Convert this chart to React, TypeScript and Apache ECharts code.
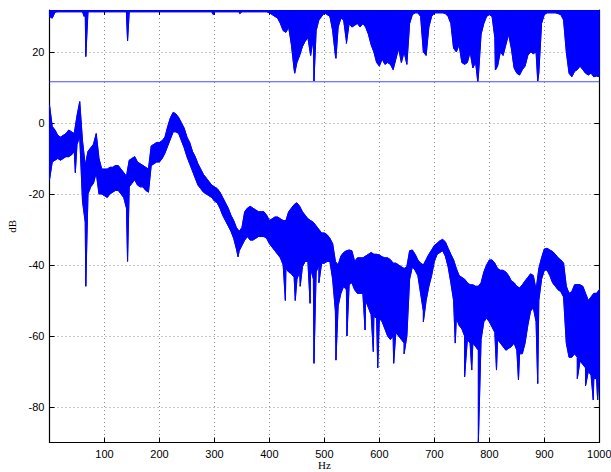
import { useEffect, useRef } from 'react';
import * as echarts from 'echarts';

// Frequency sampling of the readings (Hz)
const STEP_HZ = 5;

// Main spectrum: upper / lower envelope read every 5 Hz (0..1000 Hz), in dB
const specHi = [
  5, -1, -2, -3.5, -4, -3.5, -3, -2, -2.5, -3, 2, 6, -5, -12, -8, -7, -6, -3, -10, -13,
  -13, -13, -12.5, -12.5, -12, -12, -13, -14, -15, -10.5, -10, -9.5, -11, -11.5, -12, -12.5, -13, -6.5, -6, -5.5,
  -5.5, -5, -4, -1, 1.5, 3, 2.5, 1.5, 0, -1.5, -4, -5.5, -8, -9.5, -11.5, -13, -14.5, -15.5, -16.5, -17.5,
  -18, -18.5, -19.5, -21, -22.5, -24, -26, -27.5, -29.5, -30.5, -29.5, -25, -24, -23.5, -24, -24.5, -25, -25, -25, -26,
  -27.5, -27, -26.5, -26.5, -27, -27.5, -27.5, -25, -24, -23, -22.5, -23.5, -25, -26, -27, -27.5, -28, -29, -30, -31,
  -31, -31.5, -32.5, -34, -39, -40, -37.5, -36.5, -36, -35.8, -36, -39, -38, -38, -38, -37.5, -37, -36.5, -37, -37,
  -37.2, -37.7, -38, -38, -38.5, -39.5, -39.5, -40, -40.5, -41, -40.5, -36, -35.8, -37, -38.6, -39.5, -40, -38.5, -37, -35.8,
  -34.5, -33.9, -33.2, -32.8, -33.5, -35.3, -37, -38.6, -41, -43, -43.5, -44, -45, -45.6, -45.6, -46, -46, -45, -42, -40,
  -38.6, -38.6, -39.5, -41, -41.5, -41.5, -42, -43, -44.5, -45, -46, -46.5, -45.6, -44.5, -43.5, -42.5, -43, -47, -41, -38,
  -35.5, -35.3, -35.8, -36.2, -37, -38, -38.6, -39.5, -46, -48, -47.5, -45.6, -45.5, -45.6, -46, -48, -50, -49, -48, -48,
  -47,
];
const specLo = [
  -16, -11, -10.5, -10, -10.5, -10, -9.5, -9.5, -9, -8, -6, -4, -22, -28, -20, -18, -17, -14, -20, -20,
  -20.5, -21, -20, -19.5, -19, -19, -20, -21, -24, -18, -17, -16, -17.5, -18, -18, -19, -19.5, -12, -11.5, -11,
  -11, -10, -8.5, -6.5, -4.5, -2.5, -2.5, -3, -5, -7, -9.5, -11.5, -13.5, -15.5, -17.5, -18.5, -19.5, -20, -20.5, -21,
  -22, -22.5, -24, -26, -27.5, -29, -30.5, -32.5, -35.5, -36, -34.5, -33, -32, -33, -33, -32.5, -32, -32, -32, -32.5,
  -34, -35, -36, -37, -38, -40, -41, -42, -42.5, -43.5, -44, -42, -40.5, -39, -39, -41, -44, -42, -40, -39.5,
  -39.5, -39, -39, -44, -53, -51.5, -48, -46, -47, -45.5, -45, -47, -48, -48, -48, -50, -52, -54, -54.5, -55,
  -55, -56, -58, -60, -61, -60, -59, -60, -61, -62, -60, -44, -40.5, -41.5, -43, -48, -53, -50, -46, -43,
  -39, -37, -36.5, -36, -37.5, -40.5, -45, -50, -55, -57, -58, -60, -61, -62, -62, -63, -64, -61, -56, -55,
  -56, -57.5, -59, -61, -62, -63, -64, -63.5, -63, -62, -64, -65, -65, -62, -57, -53, -52, -56, -50, -44,
  -41.5, -41.4, -43, -45, -46, -47, -47.5, -49, -62, -66, -66, -65, -66, -67, -68, -69, -70, -71, -72, -72,
  -70,
];
// Narrow downward spikes of the spectrum: [Hz, dB]
const specSpikes: [number, number][] = [
  [47, -14], [66, -46], [142, -39], [343, -37.7], [429, -50], [447, -50], [456, -46], [474, -50.8],
  [481, -67.7], [490, -45], [521, -66.8], [541, -60], [574, -58.3], [589, -64.4], [597, -69], [626, -67.7],
  [645, -65], [680, -56], [738, -62], [755, -71.5], [768, -69.6], [780, -90], [813, -69.6], [853, -72.4],
  [888, -73.4], [960, -72], [975, -74], [989, -78], [997, -78],
];

// Upper trace: ceiling and lower envelope every 5 Hz (0..1000 Hz), in dB
const TOP_CEIL_DB = 31.6;
const topLo = [
  30, 29.5, 31.2, 31.3, 31.3, 31.3, 31.3, 31.3, 31.3, 31.3, 31.3, 31.3, 31.3, 31.3, 31.3, 31.3, 31.3, 31.3, 31.3, 31.3,
  31.3, 31.3, 31.3, 31.3, 31.3, 31.3, 31.3, 31.3, 31.3, 31.3, 31.3, 31.3, 31.3, 31.3, 31.3, 31.3, 31.3, 31.3, 31.3, 31.3,
  31.3, 31.3, 31.3, 31.3, 31.3, 31.3, 31.3, 31.3, 31.3, 31.3, 31.3, 31.3, 31.3, 31.3, 31.3, 31.3, 31.3, 31.3, 31.3, 31.3,
  31.3, 31.3, 31.3, 31.3, 31.3, 31.3, 31.3, 31.3, 31.3, 31.3, 31.3, 31.3, 31.3, 31.3, 31.3, 31.3, 31.3, 31.3, 31.3, 31.3,
  31, 30.5, 30, 29.5, 28, 26, 25.5, 27, 22, 15, 17, 19, 21.5, 23, 24, 19, 24, 26, 29, 30,
  31, 30.5, 30, 26, 19, 27, 29.5, 29, 23, 28, 27, 27.5, 28, 27, 28, 27, 25, 22, 20, 17,
  16, 18, 16.5, 17, 16.5, 15, 18, 21, 17, 20, 16.5, 28, 30.5, 31, 31, 30, 20, 19, 27, 30,
  31, 31, 31, 31, 30.8, 30, 28, 21, 20, 22, 17, 16.5, 17, 20, 15.5, 17, 13, 25, 28, 30,
  30.5, 30, 24, 16, 20, 19, 22, 25, 21, 15.5, 14, 13.5, 15, 16, 19, 20, 19.5, 20, 14, 28,
  30.5, 31, 31, 31, 31, 30.8, 30.5, 29, 20, 14, 13, 14.5, 15, 16, 15, 14, 13.5, 14, 13, 13.2,
  13,
];
// Narrow downward spikes of the upper trace: [Hz, dB]
const topSpikes: [number, number][] = [
  [63, 30], [66, 18.7], [140, 30.5], [142, 23.1], [298, 30.5], [346, 30.8], [446, 14], [481, 11.8],
  [521, 18.2], [540, 22.4], [779, 11.6], [811, 14.9], [888, 11.8],
];

// Horizontal reference level (dB)
const LEVEL_DB = 11.6;
const FREQ_RANGE = [0, 1000];
const DB_RANGE = [-90, 31.8];

const BLUE = '#0000ff';

function withFreq(vals: number[]): [number, number][] {
  return vals.map((v, i) => [i * STEP_HZ, v]);
}
function withSpikes(vals: number[], spikes: [number, number][]) {
  const pts = withFreq(vals).concat(spikes.map((s) => [s[0], s[1]] as [number, number]));
  pts.sort((a, b) => a[0] - b[0]);
  return pts;
}

function bandSeries(hi: number[], lo: number[], spikes: [number, number][]) {
  const hiPts = withFreq(hi);
  const loPts = withSpikes(lo, spikes);
  const common = { symbol: 'none', showSymbol: false, silent: true, xAxisIndex: 0, yAxisIndex: 0 };
  return [
    {
      ...common,
      type: 'custom',
      coordinateSystem: 'cartesian2d',
      clip: true,
      data: [[FREQ_RANGE[0], 0]],
      renderItem: (_params: any, api: any) => {
        const points: number[][] = [];
        for (const p of hiPts) points.push(api.coord(p));
        for (let i = loPts.length - 1; i >= 0; i--) points.push(api.coord(loPts[i]));
        return {
          type: 'polygon',
          shape: { points },
          style: { fill: BLUE, stroke: BLUE, lineWidth: 0.8 },
        };
      },
    },
    { ...common, type: 'line', data: hiPts, lineStyle: { color: BLUE, width: 1 } },
    { ...common, type: 'line', data: loPts, lineStyle: { color: BLUE, width: 1 } },
  ];
}

export default function App() {
  const ref = useRef<HTMLDivElement>(null);
  useEffect(() => {
    if (!ref.current) return;
    const chart = echarts.init(ref.current, undefined, { renderer: 'svg' });
    const gridLine = { show: true, lineStyle: { color: '#8a8a8a', type: [1, 3] as any, width: 1 } };
    const tickIn = { show: true, inside: true, length: 5, lineStyle: { color: '#000' } };
    const label = { fontFamily: 'Liberation Sans', fontSize: 11, color: '#000' };
    const axisLine = { show: true, onZero: false, lineStyle: { color: '#000', width: 1.2 } };
    chart.setOption({
      animation: false,
      backgroundColor: '#fff',
      grid: { left: 49.5, right: 11.7, top: 10, bottom: 29.5, containLabel: false, outerBoundsMode: 'none' },
      xAxis: [
        {
          type: 'value', min: FREQ_RANGE[0], max: FREQ_RANGE[1], interval: 100,
          axisLine, axisTick: tickIn, splitLine: gridLine,
          axisLabel: { ...label, margin: 6, formatter: (v: number) => (v === 0 ? '' : String(v)) },
          name: 'Hz', nameLocation: 'middle', nameGap: 17, nameMoveOverlap: false,
          nameTextStyle: { fontFamily: 'Liberation Serif', fontSize: 11, color: '#000', lineHeight: 11 },
        },
        {
          type: 'value', position: 'top', min: FREQ_RANGE[0], max: FREQ_RANGE[1], interval: 100,
          axisLine, axisTick: tickIn, splitLine: { show: false }, axisLabel: { show: false },
        },
      ],
      yAxis: [
        {
          type: 'value', min: DB_RANGE[0], max: DB_RANGE[1], splitNumber: 6,
          axisLine, axisTick: tickIn, splitLine: gridLine,
          axisLabel: { ...label, margin: 5, formatter: (v: number) => (Math.abs(v % 20) < 1e-6 ? String(v) : '') },
          name: 'dB', nameLocation: 'middle', nameGap: 32, nameMoveOverlap: false,
          nameTextStyle: { fontFamily: 'Liberation Serif', fontSize: 11, color: '#000' },
        },
        {
          type: 'value', position: 'right', min: DB_RANGE[0], max: DB_RANGE[1], splitNumber: 6,
          axisLine, axisTick: tickIn, splitLine: { show: false }, axisLabel: { show: false },
        },
      ],
      series: [
        ...bandSeries(specHi, specLo, specSpikes),
        ...bandSeries(topLo.map(() => TOP_CEIL_DB), topLo, topSpikes),
        {
          type: 'line', data: [[FREQ_RANGE[0], LEVEL_DB], [FREQ_RANGE[1], LEVEL_DB]], xAxisIndex: 0, yAxisIndex: 0,
          symbol: 'none', showSymbol: false, lineStyle: { color: '#4d4dff', width: 1.2 }, silent: true,
        },
      ],
    });
    return () => chart.dispose();
  }, []);
  return <div ref={ref} style={{ position: 'fixed', left: 0, top: 0, width: 611, height: 472 }} />;
}
